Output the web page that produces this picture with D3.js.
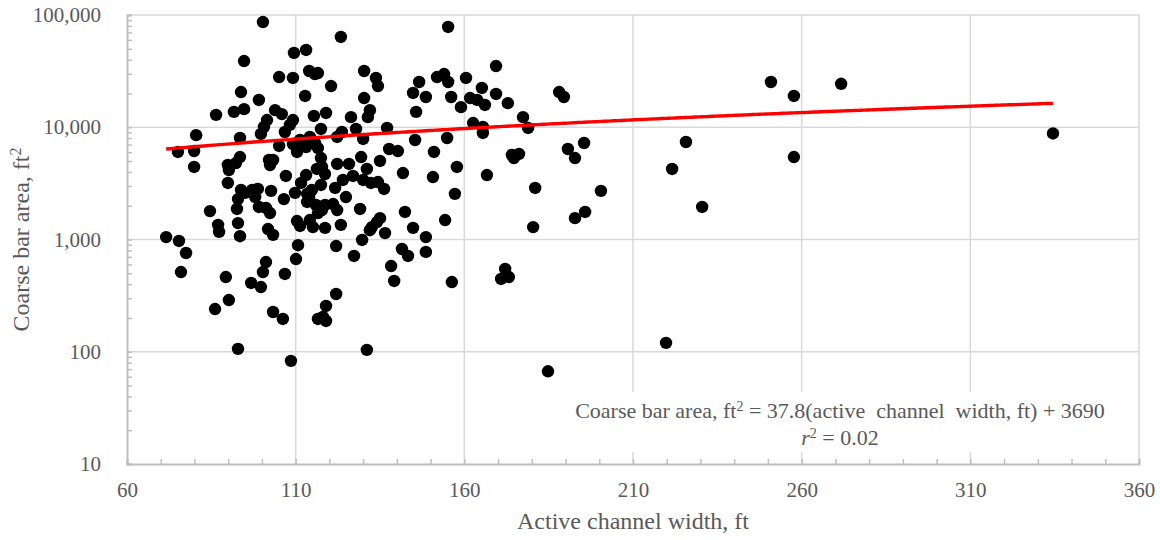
<!DOCTYPE html>
<html>
<head>
<meta charset="utf-8">
<script src="https://cdn.jsdelivr.net/npm/d3@7"></script>
<style>
  body { margin: 0; background: #fff; }
  text { font-family: "Liberation Serif", "Times New Roman", serif; fill: #595959; }
</style>
</head>
<body>
<svg id="chart" width="1160" height="540"></svg>
<script>
// Active channel width, ft (x) and coarse bar area, ft2 (y)
var channelWidth = [
    71.6, 75.1, 75.4, 76.0, 77.5, 79.9, 79.9, 80.5, 84.6, 86.1, 86.4, 87.0, 87.3, 89.3, 89.9, 90.2, 89.9, 90.2,
    91.7, 92.3, 93.5, 93.8, 95.0, 92.9, 92.6, 92.9, 93.5, 92.9, 93.5, 93.8, 94.7, 94.7, 96.8, 97.1, 98.8, 98.0,
    99.1, 101.2, 102.4, 99.1, 99.7, 101.5, 100.6, 99.7, 100.3, 100.3, 101.2, 101.8, 103.3, 102.1, 103.3, 102.4,
    102.7, 103.3, 103.9, 105.1, 105.1,
    105.9, 106.2, 106.5, 106.8, 109.2, 108.3, 106.8, 107.1, 108.6, 109.2, 109.2, 110.4, 109.5, 109.8, 111.6,
    110.1, 110.7, 110.4, 111.3, 112.8, 111.3, 112.8, 113.1, 113.1, 113.4, 114.8, 114.0, 113.4, 114.0, 115.7,
    116.6, 114.2, 114.2, 115.1, 115.4, 116.0, 116.6, 117.8, 117.5, 117.8, 116.3, 118.7, 117.5, 115.7, 116.6,
    113.1, 116.6, 118.1, 119.0, 117.5, 118.7, 118.7, 119.0, 119.0, 120.5,
    121.1, 122.3, 121.7, 122.0, 122.0, 122.3, 123.7, 122.3, 123.4, 123.4, 124.0, 124.9, 125.8, 126.4, 127.0,
    127.3, 127.9, 129.1, 129.4, 129.7, 130.0, 130.0, 130.3, 130.3, 131.1, 131.1, 131.4, 132.0, 132.6, 134.1,
    135.0, 132.0, 133.8, 134.4, 134.4, 132.3, 135.0, 136.2, 136.5, 137.1, 137.7, 138.3, 139.2, 140.3,
    141.5, 143.3, 141.8, 142.4, 144.8, 144.8, 145.4, 145.7, 146.6, 148.6, 148.6, 148.6, 150.7, 151.0, 151.9,
    154.0, 155.2, 154.3, 154.9, 155.2, 156.1, 156.3, 157.2, 157.8, 159.0, 160.5,
    161.7, 163.8, 162.6, 165.2, 165.5, 165.5, 166.1, 166.7, 169.4, 169.4, 170.9, 172.1, 173.2, 172.9, 174.1,
    176.2, 174.7, 177.4, 178.9, 180.4, 181.0, 184.8, 188.1, 189.5, 190.7, 192.8, 192.8, 195.8, 195.5, 200.5,
    219.8, 221.6, 225.7, 230.5, 250.9, 257.7, 257.7, 271.7, 334.5
];
var barArea = [
    1050, 6020, 970, 513, 758, 6140, 4430, 8500, 1790, 240, 12900, 1350, 1170, 463, 4610, 4160, 3190, 289,
    13700, 4800, 5430, 2760, 2600, 2290, 1870, 1400, 1070, 106, 8020, 20600, 14500, 38900, 410, 2760, 2820, 2390,
    1950, 1910, 1720, 17500, 377, 11600, 10050, 8710, 86600, 513, 630, 1240, 1100, 5110, 5110, 4610,
    2710, 226, 14200, 6810, 28000,
    13100, 196, 2290, 493, 11600, 10500, 9070, 3680, 83, 27500, 7090, 6020, 45900, 2600, 3190,
    670, 890, 1460, 1320, 19000, 7700, 6950, 3750, 48800, 2550, 2760, 2390, 2160, 31700, 29800,
    30400, 8190, 1490, 1290, 12600, 2030, 1720, 1830, 5320, 4430, 4250, 3830, 3060, 7240, 6530,
    6670, 196, 204, 188, 9650, 2030, 1270, 13400, 256, 23300,
    2070, 1830, 2880, 875, 327, 8190, 9070, 4710, 63700, 1350, 3390, 2390, 4710, 12300, 3680,
    713, 9650, 1870, 5430, 990, 7860, 3390, 31700, 18200, 4250, 104, 12300, 14200, 1290, 1430,
    1550, 1210, 27500, 23300, 3250, 3190, 5010, 2820, 1140, 9850, 6400, 580, 427, 6140,
    823, 713, 3910, 1760, 20200, 1270, 7700, 13700, 25300, 18600, 1050, 774, 3600, 6020, 28000,
    29800, 25300, 1490, 8020, 78200, 18600, 418, 2550, 4430, 15100, 27500,
    18200, 17500, 10900, 22400, 10050, 8890, 15800, 3750, 35100, 19800, 445, 546, 463, 16400, 5660,
    5780, 5320, 12300, 9850, 1290, 2880, 67, 20600, 18600, 6400, 5320, 1550, 1760, 7240, 2710,
    120, 4250, 7390, 1950, 25300, 19000, 5430, 24400, 8800
];

// Tick labels
var xTickValues = [60, 110, 160, 210, 260, 310, 360];
var yTickValues = [10, 100, 1000, 10000, 100000];

// Linear trendline, from the equation printed on the chart
var trendSlope = 37.8,
    trendIntercept = 3690;

var width = 1160,
    height = 540,
    plot = {left: 127, right: 1139, top: 15, bottom: 464},
    gridColor = '#d9d9d9',
    axisColor = '#bfbfbf',
    textColor = '#595959';

var svg = d3.select('#chart');

// Scales
var x = d3.scaleLinear().domain([60, 360]).range([plot.left, plot.right]);
var y = d3.scaleLog().domain([10, 100000]).range([plot.bottom, plot.top]);

// Gridlines
var grid = svg.append('g').attr('class', 'grid');
grid.selectAll('.vgrid')
    .data(xTickValues.slice(1))
    .enter().append('line')
    .attr('x1', function(d) { return x(d); })
    .attr('x2', function(d) { return x(d); })
    .attr('y1', plot.top)
    .attr('y2', plot.bottom)
    .attr('stroke', gridColor)
    .attr('stroke-width', 1.5);
grid.selectAll('.hgrid')
    .data(yTickValues.slice(1))
    .enter().append('line')
    .attr('x1', plot.left)
    .attr('x2', plot.right)
    .attr('y1', function(d) { return y(d); })
    .attr('y2', function(d) { return y(d); })
    .attr('stroke', gridColor)
    .attr('stroke-width', 1.5);

// Minor ticks (inside) on both axes
var xMinor = svg.append('g')
    .attr('transform', 'translate(0,' + plot.bottom + ')')
    .call(d3.axisBottom(x).tickValues(d3.range(60, 361, 10)).tickSize(-5).tickFormat(''));
var yMinor = svg.append('g')
    .attr('transform', 'translate(' + plot.left + ',0)')
    .call(d3.axisLeft(y).tickValues(y.ticks()).tickSize(-5).tickFormat(''));
[xMinor, yMinor].forEach(function(g) {
    g.selectAll('line').attr('stroke', axisColor).attr('stroke-width', 1.5);
    g.select('.domain').attr('stroke', axisColor).attr('stroke-width', 2);
});

// Tick labels
var xLabels = svg.append('g')
    .attr('transform', 'translate(0,' + plot.bottom + ')')
    .call(d3.axisBottom(x).tickValues(xTickValues).tickSize(0).tickPadding(18).tickFormat(d3.format('d')));
var yLabels = svg.append('g')
    .attr('transform', 'translate(' + plot.left + ',0)')
    .call(d3.axisLeft(y).tickValues(yTickValues).tickSize(0).tickPadding(26).tickFormat(d3.format(',')));
[xLabels, yLabels].forEach(function(g) {
    g.select('.domain').remove();
    g.selectAll('text')
        .attr('fill', textColor)
        .style('font-family', '"Liberation Serif", serif')
        .style('font-size', '21px');
});

// Trendline over the range of the data
var xExtent = d3.extent(channelWidth);
var trendX = d3.range(xExtent[0], xExtent[1], 1).concat([xExtent[1]]);
var trendLine = d3.line()
    .x(function(d) { return x(d); })
    .y(function(d) { return y(trendSlope * d + trendIntercept); });

// Points
var points = channelWidth.map(function(d, i) { return {w: d, a: barArea[i]}; });
svg.append('g').selectAll('circle')
    .data(points)
    .enter().append('circle')
    .attr('cx', function(d) { return x(d.w); })
    .attr('cy', function(d) { return y(d.a); })
    .attr('r', 6.2)
    .attr('fill', '#000');

svg.append('path')
    .datum(trendX)
    .attr('d', trendLine)
    .attr('fill', 'none')
    .attr('stroke', '#ff0000')
    .attr('stroke-width', 3.4);

// Equation label with white box
var eqX = 840;
svg.append('rect')
    .attr('x', 556).attr('y', 392)
    .attr('width', 566).attr('height', 60)
    .attr('fill', '#fff');
var eq = svg.append('text')
    .attr('x', eqX).attr('y', 418)
    .attr('text-anchor', 'middle')
    .style('white-space', 'pre')
    .style('font-size', '22px');
eq.append('tspan').text('Coarse bar area, ft');
eq.append('tspan').attr('baseline-shift', 'super').style('font-size', '14px').text('2');
eq.append('tspan').text(' = 37.8(active  channel  width, ft) + 3690');

var r2 = svg.append('text')
    .attr('x', eqX).attr('y', 445)
    .attr('text-anchor', 'middle')
    .style('font-size', '22px');
r2.append('tspan').style('font-style', 'italic').text('r');
r2.append('tspan').attr('baseline-shift', 'super').style('font-size', '14px').text('2');
r2.append('tspan').text(' = 0.02');

// Axis titles
svg.append('text')
    .attr('x', (plot.left + plot.right) / 2)
    .attr('y', 529)
    .attr('text-anchor', 'middle')
    .style('font-size', '24px')
    .text('Active channel width, ft');

var yTitle = svg.append('text')
    .attr('transform', 'translate(29,' + ((plot.top + plot.bottom) / 2) + ') rotate(-90)')
    .attr('text-anchor', 'middle')
    .style('font-size', '24px');
yTitle.append('tspan').text('Coarse bar area, ft');
yTitle.append('tspan').attr('baseline-shift', 'super').style('font-size', '16px').text('2');
</script>
</body>
</html>
